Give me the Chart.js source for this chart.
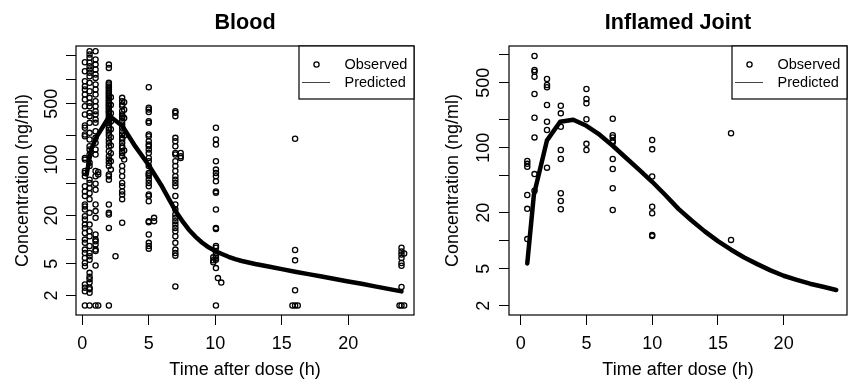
<!DOCTYPE html>
<html>
<head>
<meta charset="utf-8">
<script src="https://cdn.jsdelivr.net/npm/chart.js@4.4.0/dist/chart.umd.min.js"></script>
<style>
  html, body { margin: 0; padding: 0; background: #fff; }
  #wrap { display: flex; width: 854px; height: 379px; }
  canvas { display: block; }
</style>
</head>
<body>
<div id="wrap">
  <canvas id="blood" width="427" height="379"></canvas>
  <canvas id="joint" width="427" height="379"></canvas>
</div>
<script>
// ---------- Data ----------
const xTickValues = [0, 5, 10, 15, 20];
const yTickValues = [1, 2, 5, 10, 20, 50, 100, 200, 500, 1000, 2000];
const yTickLabels = [2, 5, 20, 100, 500];

// blood: actual sample times, one list of concentrations per time
const bloodSampleTimes = [0.2, 0.55, 1.0, 1.2, 2.0, 2.15, 2.5, 3.0, 3.15, 5.0, 5.4, 7.0, 7.4,
  9.85, 10.05, 10.2, 10.45, 15.8, 16.0, 16.2, 23.85, 24.0, 24.2];
const bloodObserved = [
  [1650, 1270, 955, 828, 752, 651, 564, 465, 366, 267, 250, 206, 196, 105, 100, 72, 68, 62, 46.5, 40, 35,
   27.4, 26, 23.8, 19.6, 17.8, 15.4, 14, 12.1, 10, 9.1, 7.5, 6.8, 5.9, 5.1, 4.65, 2.74, 2.5, 2.26, 1.5],
  [2260, 2060, 1870, 1620, 1470, 1340, 1215, 1100, 910, 716, 591, 512, 465, 384, 349, 288, 216, 178, 147,
   134, 116, 91, 83, 56, 51, 44, 38, 32, 21.6, 15.4, 12.7, 11, 8.3, 6.8, 6.2, 5.6, 3.84, 3.42, 3.2, 2.9,
   2.5, 2.4, 2.16, 1.5],
  [2260, 1780, 1540, 1340, 1160, 1050, 868, 752, 651, 537, 465, 403, 366, 317, 288, 226, 187, 162, 134,
   116, 72, 62, 50, 42, 27.4, 22.7, 18.7, 11.6, 10, 9.5, 8.7, 7.5, 7.2, 4.74, 1.5],
  [70, 65, 1.5],
  [1540, 1400, 910, 868, 820, 788, 750, 716, 680, 651, 620, 591, 560, 537, 510, 488, 470, 444, 430, 403,
   390, 366, 340, 320, 300, 288, 270, 250, 235, 216, 200, 178, 162, 147, 127, 110, 100, 91, 83, 65, 62,
   56, 27.4, 21.6, 20.6, 14, 1.5],
  [600, 480, 380, 300, 240, 190, 150, 120, 95, 75],
  [6.2],
  [591, 537, 488, 465, 403, 366, 349, 333, 302, 275, 250, 226, 206, 187, 178, 162, 147, 140, 127, 121,
   110, 83, 72, 62, 51, 46.5, 40, 36.6, 32, 16.2],
  [520, 420, 330, 200, 130, 100],
  [804, 444, 423, 392, 302, 288, 206, 196, 170, 154, 147, 134, 121, 105, 95.5, 83, 68, 65, 62, 56, 51,
   46.5, 36.6, 35, 30.2, 17, 16.5, 11.6, 9.1, 8.3, 7.7],
  [18.7, 17],
  [403, 384, 349, 187, 170, 147, 121, 116, 95.5, 83, 72, 62, 56, 51, 46.5, 35, 27.4, 23.8, 20.6, 18.7,
   17, 15.4, 14, 12.7, 11, 9.1, 7.5, 6.8, 6.3, 2.6],
  [121, 110, 105],
  [6.0, 5.5, 5.2],
  [250, 178, 154, 95.5, 75, 68, 62, 53.7, 40, 38.4, 23.8, 14, 13.6, 8.3, 7.9, 6.8, 6.2, 5.9, 5.6, 4.4, 1.5],
  [3.3],
  [2.9],
  [1.5],
  [182, 7.4, 5.5, 2.33, 1.5],
  [1.5],
  [1.5],
  [7.9, 7.1, 6.5, 5.9, 5.1, 4.7, 2.56, 1.5],
  [6.7, 1.5]
];
const bloodPredTime = [0.33, 0.67, 1.1, 2.05, 3, 4, 5, 6, 6.5, 7, 7.5, 8, 8.5, 9, 9.5, 10, 10.5, 11,
  11.5, 12, 13, 14, 15, 16, 17, 18, 19, 20, 21, 22, 23, 24];
const bloodPredConc = [65, 135, 195, 350, 265, 145, 85, 46, 32.5, 23, 17.3, 13.4, 10.9, 9.2, 8.0, 7.2,
  6.6, 6.1, 5.7, 5.4, 4.95, 4.6, 4.27, 3.97, 3.7, 3.45, 3.21, 3.0, 2.8, 2.6, 2.42, 2.25];

// inflamed joint
const jointSampleTimes = [0.5, 1.05, 2.0, 3.05, 5.0, 7.0, 10.0, 16.0];
const jointObserved = [
  [72, 67, 62.5, 31, 22, 10.4],
  [968, 684, 656, 580, 378, 210, 129, 52, 34.5],
  [548, 472, 446, 288, 190, 155, 61],
  [283, 234, 168, 94.4, 75.5, 32.4, 26.7, 21.8],
  [428, 334, 300, 202, 110, 94.5],
  [205, 136, 129, 118, 114, 75.5, 59, 36.6, 21.4],
  [121, 96, 49, 23.2, 19.7, 11.5, 11.2],
  [143, 10.2]
];
const jointPredTime = [0.5, 1, 2, 3, 4, 5, 6, 7, 8, 9, 10, 11, 12, 13, 14, 15, 16, 17, 18, 19, 20, 21,
  22, 23, 24];
const jointPredConc = [5.7, 31, 120, 190, 200, 172, 138, 105, 78, 58, 43, 31, 22, 16.5, 12.6, 9.9, 8.0,
  6.6, 5.6, 4.8, 4.2, 3.8, 3.45, 3.2, 2.95];

// ---------- Helpers ----------
const FONT = '"Liberation Sans", Arial, Helvetica, sans-serif';
Chart.defaults.font.family = FONT;
Chart.defaults.color = '#000';

function obsPoints(times, groups) {
  const pts = [];
  times.forEach((t, i) => groups[i].forEach(c => pts.push({ x: t, y: c })));
  return pts;
}

function linePoints(times, conc) {
  return times.map((t, i) => ({ x: t, y: conc[i] }));
}

// box round the plot region and the R style legend in its top right corner
const framePlugin = {
  id: 'frame',
  afterDraw(chart) {
    const { ctx, chartArea: a } = chart;
    ctx.save();
    ctx.strokeStyle = '#000';
    ctx.lineWidth = 1.2;
    ctx.strokeRect(a.left, a.top, a.right - a.left, a.bottom - a.top);

    const x0 = a.right - 115, y0 = a.top;
    ctx.fillStyle = '#fff';
    ctx.fillRect(x0, y0, 115, 53);
    ctx.strokeRect(x0, y0, 115, 53);

    ctx.lineWidth = 1.3;
    ctx.beginPath();
    ctx.arc(x0 + 17.5, y0 + 18.5, 2.6, 0, Math.PI * 2);
    ctx.stroke();
    ctx.lineWidth = 1;
    ctx.strokeStyle = '#444';
    ctx.beginPath();
    ctx.moveTo(x0 + 3, y0 + 36.5);
    ctx.lineTo(x0 + 31, y0 + 36.5);
    ctx.stroke();

    ctx.fillStyle = '#000';
    ctx.font = '14.5px ' + FONT;
    ctx.textBaseline = 'middle';
    ctx.textAlign = 'left';
    ctx.fillText('Observed', x0 + 45.5, y0 + 18.5);
    ctx.fillText('Predicted', x0 + 45.5, y0 + 36.5);
    ctx.restore();
  }
};

function makeChart(id, cfg) {
  return new Chart(document.getElementById(id), {
    type: 'scatter',
    data: {
      datasets: [
        {
          label: 'Observed',
          data: obsPoints(cfg.times, cfg.observed),
          pointRadius: 2.6,
          pointBorderWidth: 1.3,
          borderColor: '#000',
          backgroundColor: 'rgba(0,0,0,0)',
          order: 2
        },
        {
          label: 'Predicted',
          data: linePoints(cfg.predTime, cfg.predConc),
          showLine: true,
          borderColor: '#000',
          borderWidth: 4.5,
          borderJoinStyle: 'round',
          borderCapStyle: 'round',
          pointRadius: 0,
          tension: 0,
          order: 1
        }
      ]
    },
    options: {
      responsive: false,
      animation: false,
      devicePixelRatio: 1,
      layout: { padding: { left: 0, right: cfg.padRight, top: 0, bottom: 0 } },
      plugins: {
        legend: { display: false },
        tooltip: { enabled: false },
        title: {
          display: true,
          text: cfg.title,
          fullSize: false,
          color: '#000',
          font: { size: 21.6, weight: 'bold', lineHeight: 1 },
          padding: { top: 12, bottom: 12.4 }
        }
      },
      scales: {
        x: {
          type: 'linear',
          min: cfg.xMin,
          max: cfg.xMax,
          afterBuildTicks: s => { s.ticks = xTickValues.map(v => ({ value: v })); },
          afterFit: s => { s.height = 64; },
          ticks: { autoSkip: false, maxRotation: 0, padding: 8, color: '#000', font: { size: 18 } },
          grid: { drawOnChartArea: false, drawTicks: true, tickLength: 10, tickColor: '#000', tickWidth: 1 },
          border: { display: false },
          title: {
            display: true, text: 'Time after dose (h)', color: '#000',
            font: { size: 18, lineHeight: 1 }, padding: { top: 0, bottom: 0 }
          }
        },
        y: {
          type: 'logarithmic',
          min: cfg.yMin,
          max: cfg.yMax,
          afterBuildTicks: s => {
            s.ticks = yTickValues.filter(v => v >= s.min && v <= s.max).map(v => ({ value: v }));
          },
          afterFit: s => { s.width = cfg.yWidth; },
          ticks: {
            autoSkip: false, minRotation: 90, maxRotation: 90, crossAlign: 'center',
            padding: cfg.yTickPad, color: '#000', font: { size: 18 },
            callback: v => (yTickLabels.includes(v) ? String(v) : '')
          },
          grid: { drawOnChartArea: false, drawTicks: true, tickLength: 10, tickColor: '#000', tickWidth: 1 },
          border: { display: false },
          title: {
            display: true, text: 'Concentration (ng/ml)', color: '#000',
            font: { size: 18 }, padding: { top: cfg.yTitlePad, bottom: 0 }
          }
        }
      }
    },
    plugins: [framePlugin]
  });
}

// ---------- Boot ----------
makeChart('blood', {
  title: 'Blood',
  times: bloodSampleTimes, observed: bloodObserved,
  predTime: bloodPredTime, predConc: bloodPredConc,
  xMin: -0.47, xMax: 24.94, yMin: 1.141, yMax: 2629,
  yWidth: 76, padRight: 13, yTickPad: -1.5, yTitlePad: 12.5
});

makeChart('joint', {
  title: 'Inflamed Joint',
  times: jointSampleTimes, observed: jointObserved,
  predTime: jointPredTime, predConc: jointPredConc,
  xMin: -0.89, xMax: 24.82, yMin: 1.589, yMax: 1240,
  yWidth: 82, padRight: 7, yTickPad: 0, yTitlePad: 15.5
});
</script>
</body>
</html>
